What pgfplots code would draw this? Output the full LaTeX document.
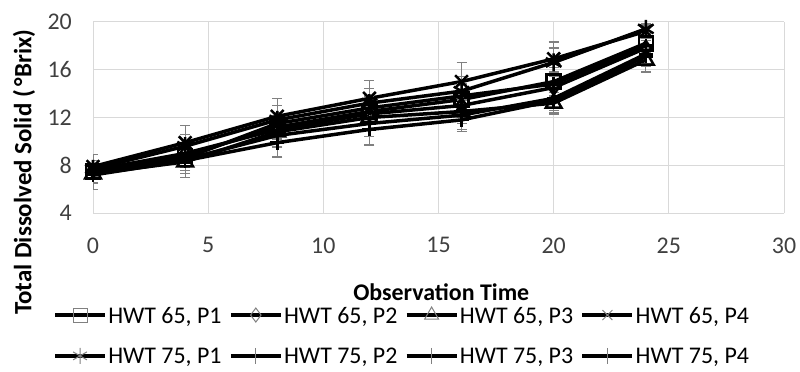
\documentclass[border=0pt]{standalone}
\usepackage{fontspec}
\setmainfont{Carlito}
\usepackage{pgfplots}
\pgfplotsset{compat=1.18}
\definecolor{gridgray}{HTML}{D9D9D9}
\definecolor{ticktext}{HTML}{404040}
\definecolor{errgray}{HTML}{808080}
\begin{document}
\begin{tikzpicture}
\path[use as bounding box] (0,0) rectangle (800bp,372bp);
\begin{axis}[
  at={(93bp,158.7bp)}, anchor=south west,
  scale only axis, width=691bp, height=191.6bp,
  xmin=0, xmax=30, ymin=4, ymax=20,
  xtick={0,5,...,30}, ytick={4,8,...,20},
  grid=major, major grid style={gridgray, line width=1bp},
  axis line style={draw=none}, major tick length=0pt,
  /pgf/number format/assume math mode=true,
  tick label style={font=\fontsize{24}{28}\selectfont, text=ticktext, inner sep=0pt},
  yticklabel style={xshift=-21bp},
  xticklabel style={yshift=-24bp},
  xlabel={Observation Time},
  ylabel={Total Dissolved Solid (\,°Brix)},
  label style={font=\fontsize{24}{28}\selectfont\bfseries},
  xlabel style={at={(axis description cs:0.504,-0.41)}, anchor=center},
  ylabel style={at={(axis description cs:-0.1,0.215)}, anchor=center, rotate=0, font=\fontsize{25}{29}\selectfont\bfseries},
  legend columns=4,
  legend style={draw=none, fill=none, at={(axis description cs:0.447,-0.48)}, anchor=north,
    font=\fontsize{24}{28}\selectfont, inner sep=0pt, row sep=22bp,
    /tikz/every even column/.style={column sep=6bp},
    nodes={inner sep=1.5bp, text depth=0pt}},
  legend cell align=left,
  legend image code/.code={\draw[mark repeat=2,mark phase=2,#1] plot coordinates {(0bp,0bp) (25bp,0bp) (50bp,0bp)};},
  every axis plot/.append style={black, line width=3.5bp, mark options={solid, line width=2.5bp, fill=none}},
  error bars/y dir=both, error bars/y explicit,
  error bars/error bar style={errgray, line width=1.2bp},
  error bars/error mark options={rotate=90, errgray, mark size=5bp, line width=1.2bp},
]
% HWT 65, P1
\addplot[forget plot, mark=square, mark size=7bp] coordinates {
 (0,7.5) +- (0,0.6) (4,8.8) +- (0,0.8) (8,11.2) +- (0,1.0) (12,12.5) +- (0,1.0)
 (16,13.5) +- (0,1.2) (20,15.0) +- (0,1.2) (24,18.2) +- (0,0.6)};
% HWT 65, P2
\addplot[forget plot, mark=diamond, mark size=7bp] coordinates {
 (0,7.6) +- (0,0.5) (4,9.0) +- (0,0.7) (8,11.0) +- (0,0.8) (12,12.3) +- (0,0.9)
 (16,13.0) +- (0,1.0) (20,14.5) +- (0,1.0) (24,17.8) +- (0,0.6)};
% HWT 65, P3
\addplot[forget plot, mark=triangle, mark size=9bp] coordinates {
 (0,7.3) +- (0,0.8) (4,8.3) +- (0,1.3) (8,10.8) +- (0,1.2) (12,12.0) +- (0,1.0)
 (16,12.5) +- (0,1.0) (20,13.2) +- (0,0.9) (24,16.8) +- (0,1.0)};
% HWT 65, P4
\addplot[forget plot, mark=x, mark size=9bp] coordinates {
 (0,7.9) +- (0,1.0) (4,9.9) +- (0,1.4) (8,12.1) +- (0,1.5) (12,13.6) +- (0,1.5)
 (16,15.0) +- (0,1.6) (20,16.9) +- (0,1.4) (24,19.2) +- (0,0.5)};
% HWT 75, P1
\addplot[forget plot, mark=asterisk, mark size=9bp] coordinates {
 (0,7.7) +- (0,0.7) (4,9.6) +- (0,1.0) (8,11.8) +- (0,1.2) (12,13.2) +- (0,1.2)
 (16,14.2) +- (0,1.2) (20,16.6) +- (0,1.2) (24,19.4) +- (0,0.4)};
% HWT 75, P2
\addplot[forget plot, mark=+, mark size=7bp] coordinates {
 (0,7.4) +- (0,0.6) (4,8.6) +- (0,0.8) (8,11.5) +- (0,0.9) (12,12.8) +- (0,1.0)
 (16,13.8) +- (0,1.0) (20,14.8) +- (0,1.0) (24,18.0) +- (0,0.6)};
% HWT 75, P3
\addplot[forget plot, mark=+, mark size=7bp] coordinates {
 (0,7.3) +- (0,0.7) (4,8.5) +- (0,0.9) (8,10.5) +- (0,1.0) (12,11.5) +- (0,1.1)
 (16,12.2) +- (0,1.2) (20,13.6) +- (0,1.0) (24,17.3) +- (0,0.8)};
% HWT 75, P4
\addplot[forget plot, mark=+, mark size=7bp] coordinates {
 (0,7.2) +- (0,1.2) (4,8.4) +- (0,1.1) (8,9.9) +- (0,1.2) (12,11.0) +- (0,1.3)
 (16,11.8) +- (0,1.0) (20,13.4) +- (0,1.0) (24,17.1) +- (0,0.8)};
% legend images
\addlegendimage{black, line width=3.5bp, mark=square, mark options={solid, errgray, line width=1bp, mark size=7bp}}
\addlegendentry{HWT 65, P1}
\addlegendimage{black, line width=3.5bp, mark=diamond, mark options={solid, errgray, line width=1bp, mark size=7bp}}
\addlegendentry{HWT 65, P2}
\addlegendimage{black, line width=3.5bp, mark=triangle, mark options={solid, errgray, line width=1bp, mark size=8bp}}
\addlegendentry{HWT 65, P3}
\addlegendimage{black, line width=3.5bp, mark=x, mark options={solid, errgray, line width=1bp, mark size=7bp}}
\addlegendentry{HWT 65, P4}
\addlegendimage{black, line width=3.5bp, mark=asterisk, mark options={solid, errgray, line width=1bp, mark size=8bp}}
\addlegendentry{HWT 75, P1}
\addlegendimage{black, line width=3.5bp, mark=|, mark options={solid, errgray, line width=1bp, mark size=8bp}}
\addlegendentry{HWT 75, P2}
\addlegendimage{black, line width=3.5bp, mark=|, mark options={solid, errgray, line width=1bp, mark size=8bp}}
\addlegendentry{HWT 75, P3}
\addlegendimage{black, line width=3.5bp, mark=|, mark options={solid, errgray, line width=1bp, mark size=8bp}}
\addlegendentry{HWT 75, P4}
\end{axis}
\end{tikzpicture}
\end{document}
